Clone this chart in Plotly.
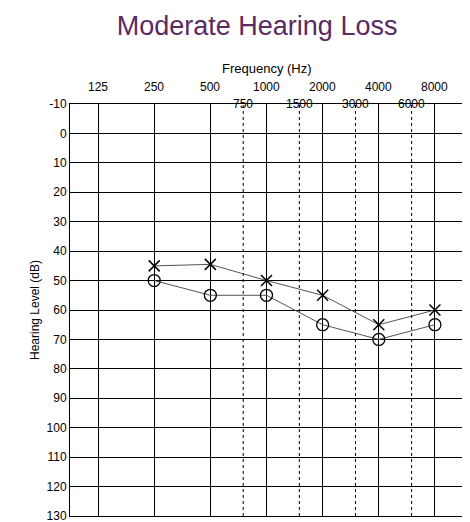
import plotly.graph_objects as go
import math

# data
freqs = [250, 500, 1000, 2000, 4000, 8000]
left_ear = [45, 44.5, 50, 55, 65, 60]     # X marks
right_ear = [50, 55, 55, 65, 70, 65]      # O marks
octave_freqs = [125, 250, 500, 1000, 2000, 4000, 8000]
mid_freqs = [750, 1500, 3000, 6000]
db_ticks = list(range(-10, 140, 10))
db_labels = [str(v) for v in db_ticks]

fig = go.Figure()
fig.add_trace(go.Scatter(x=freqs, y=left_ear, mode="lines+markers",
                         line=dict(color="#555555", width=1),
                         marker=dict(symbol="x-thin", size=11, line=dict(color="black", width=1.5))))
fig.add_trace(go.Scatter(x=freqs, y=right_ear, mode="lines+markers",
                         line=dict(color="#555555", width=1),
                         marker=dict(symbol="circle-open", size=12, color="black", line=dict(width=1.3))))

# dotted inter-octave lines
for f in mid_freqs:
    fig.add_shape(type="line", x0=f, x1=f, y0=0, y1=1, xref="x", yref="paper",
                  line=dict(color="black", width=1, dash="dot"))

# frequency labels
for f in octave_freqs:
    fig.add_annotation(x=math.log10(f), y=1, xref="x", yref="paper", yshift=26, text=str(f),
                       showarrow=False, font=dict(size=12, color="black"))
for f in mid_freqs:
    fig.add_annotation(x=math.log10(f), y=1, xref="x", yref="paper", yshift=9, text=str(f),
                       showarrow=False, font=dict(size=12, color="black"))

fig.add_annotation(x=0.5, y=1, xref="paper", yref="paper", yshift=45, text="Frequency (Hz)",
                   showarrow=False, font=dict(size=13, color="black"))

fig.update_layout(
    width=470, height=522,
    margin=dict(l=62, r=15, t=96, b=14, autoexpand=False),
    paper_bgcolor="white", plot_bgcolor="white",
    showlegend=False,
    font=dict(family="Liberation Sans, Arial", color="black"),
    title=dict(text="Moderate Hearing Loss", x=0.53, y=0.985, yanchor="top",
               font=dict(size=27, color="#5b2a63")),
)
fig.update_xaxes(type="log", range=[math.log10(125 / math.sqrt(2)), math.log10(8000 * math.sqrt(2))],
                 tickvals=octave_freqs, showticklabels=False, showgrid=True,
                 gridcolor="black", gridwidth=1, showline=True, linecolor="black",
                 linewidth=1, mirror=True, zeroline=False, automargin=False)
fig.update_yaxes(range=[130, -10], tickvals=db_ticks, ticktext=db_labels, showgrid=True,
                 gridcolor="black", gridwidth=1, showline=True, linecolor="black", linewidth=1,
                 mirror=True, zeroline=False, ticks="", tickfont=dict(size=12), automargin=False,
                 title=dict(text="Hearing Level (dB)", font=dict(size=12), standoff=4))

fig.write_html("out.html")
